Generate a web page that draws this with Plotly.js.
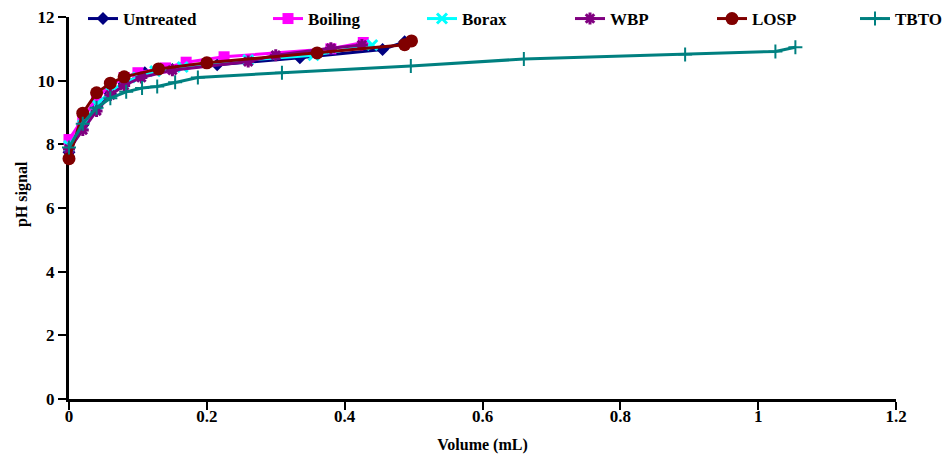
<!DOCTYPE html>
<html><head><meta charset="utf-8">
<script src="https://cdn.plot.ly/plotly-3.0.1.min.js"></script>
<style>html,body{margin:0;padding:0;background:#fff;}#chart{width:949px;height:461px;}</style>
</head><body><div id="chart"></div>
<script>
const seriesNames = ["Untreated", "Boiling", "Borax", "WBP", "LOSP", "TBTO"];

const untreatedX = [0, 0.02, 0.04, 0.06, 0.08, 0.11, 0.15, 0.215, 0.335, 0.455, 0.487];
const untreatedY = [7.75, 8.6, 9.2, 9.6, 9.9, 10.25, 10.35, 10.5, 10.72, 10.98, 11.22];

const boilingX = [0, 0.02, 0.04, 0.06, 0.08, 0.1, 0.14, 0.17, 0.225, 0.38, 0.427];
const boilingY = [8.15, 8.8, 9.45, 9.85, 10.1, 10.25, 10.4, 10.58, 10.75, 11.0, 11.2];

const boraxX = [0, 0.02, 0.04, 0.06, 0.08, 0.1, 0.125, 0.165, 0.26, 0.355, 0.44];
const boraxY = [7.95, 8.6, 9.25, 9.65, 9.95, 10.1, 10.3, 10.43, 10.65, 10.8, 11.12];

const wbpX = [0, 0.02, 0.04, 0.06, 0.08, 0.105, 0.15, 0.26, 0.3, 0.38, 0.425];
const wbpY = [7.85, 8.45, 9.05, 9.55, 9.85, 10.1, 10.33, 10.6, 10.8, 11.02, 11.12];

const lospX = [0, 0.02, 0.04, 0.06, 0.08, 0.13, 0.2, 0.36, 0.487, 0.497];
const lospY = [7.55, 8.98, 9.62, 9.92, 10.12, 10.37, 10.56, 10.87, 11.13, 11.25];

const tbtoX = [0, 0.02, 0.04, 0.06, 0.083, 0.106, 0.128, 0.154, 0.187, 0.309, 0.496, 0.66, 0.894, 1.025, 1.054];
const tbtoY = [7.9, 8.65, 9.15, 9.45, 9.65, 9.77, 9.82, 9.95, 10.1, 10.25, 10.46, 10.68, 10.82, 10.92, 11.05];

const xTickVals = [0, 0.2, 0.4, 0.6, 0.8, 1, 1.2];
const xTickText = ["0", "0.2", "0.4", "0.6", "0.8", "1", "1.2"];
const yTickVals = [0, 2, 4, 6, 8, 10, 12];
const yTickText = ["0", "2", "4", "6", "8", "10", "12"];

const xTitle = "Volume (mL)";
const yTitle = "pH signal";

const FONT = "'Liberation Serif'";

const styles = [
  {color: "#000080", symbol: "diamond", size: 10, lw: 0},
  {color: "#FF00FF", symbol: "square", size: 11, lw: 0},
  {color: "#00FFFF", symbol: "x-thin-open", size: 10, lw: 3},
  {color: "#800080", symbol: "asterisk-open", size: 10, lw: 3},
  {color: "#800000", symbol: "circle", size: 13, lw: 0},
  {color: "#008080", symbol: "cross-thin-open", size: 10, lw: 2}
];
const xs = [untreatedX, boilingX, boraxX, wbpX, lospX, tbtoX];
const ys = [untreatedY, boilingY, boraxY, wbpY, lospY, tbtoY];

const traces = seriesNames.map((n, i) => ({
  type: "scatter", mode: "lines+markers", name: n,
  x: xs[i], y: ys[i], cliponaxis: false,
  line: {color: styles[i].color, width: 3},
  marker: {color: styles[i].color, symbol: styles[i].symbol, size: styles[i].size,
           line: {color: styles[i].color, width: styles[i].lw}},
  legend: i === 0 ? "legend" : "legend" + (i + 1)
}));

const L = 69, R = 896, T = 17, B = 399;
const legendLeftPx = [83, 268, 422, 570, 712, 855];
const legendY = (B - 19) / (B - T);
const layout = {
  width: 949, height: 461,
  margin: {l: L, r: 949 - R, t: T, b: 461 - B, pad: 0, autoexpand: false},
  paper_bgcolor: "#fff", plot_bgcolor: "#fff",
  font: {family: FONT, size: 17, color: "#000", weight: "bold"},
  showlegend: true,
  xaxis: {
    range: [0, 1.2], tickvals: xTickVals, ticktext: xTickText,
    showgrid: false, zeroline: false, showline: true, linecolor: "#000", linewidth: 3,
    ticks: "outside", ticklen: 8, tickwidth: 2, tickcolor: "#000",
    tickfont: {family: FONT, size: 17, color: "#000", weight: "bold"},
    ticklabelstandoff: -8,
    layer: "below traces", automargin: false,
    title: {text: xTitle, font: {family: FONT, size: 16, color: "#000", weight: "bold"}, standoff: 14}
  },
  yaxis: {
    range: [0, 12], tickvals: yTickVals, ticktext: yTickText,
    showgrid: false, zeroline: false, showline: true, linecolor: "#000", linewidth: 3,
    ticks: "outside", ticklen: 8, tickwidth: 2, tickcolor: "#000",
    tickfont: {family: FONT, size: 17, color: "#000", weight: "bold"},
    layer: "below traces", automargin: false
  },
  annotations: [{
    text: yTitle, textangle: -90, showarrow: false,
    xref: "paper", yref: "paper",
    x: (22 - L) / (R - L), y: (B - 194) / (B - T),
    xanchor: "center", yanchor: "middle",
    font: {family: FONT, size: 16, color: "#000", weight: "bold"}
  }]
};
legendLeftPx.forEach((px, i) => {
  const key = i === 0 ? "legend" : "legend" + (i + 1);
  layout[key] = {
    x: (px - L) / (R - L), y: legendY, xanchor: "left", yanchor: "middle",
    orientation: "h", bgcolor: "rgba(0,0,0,0)", borderwidth: 0,
    font: {family: FONT, size: 17, color: "#000", weight: "bold"}
  };
});

Plotly.newPlot("chart", traces, layout, {staticPlot: true, displayModeBar: false});
</script>
</body></html>
